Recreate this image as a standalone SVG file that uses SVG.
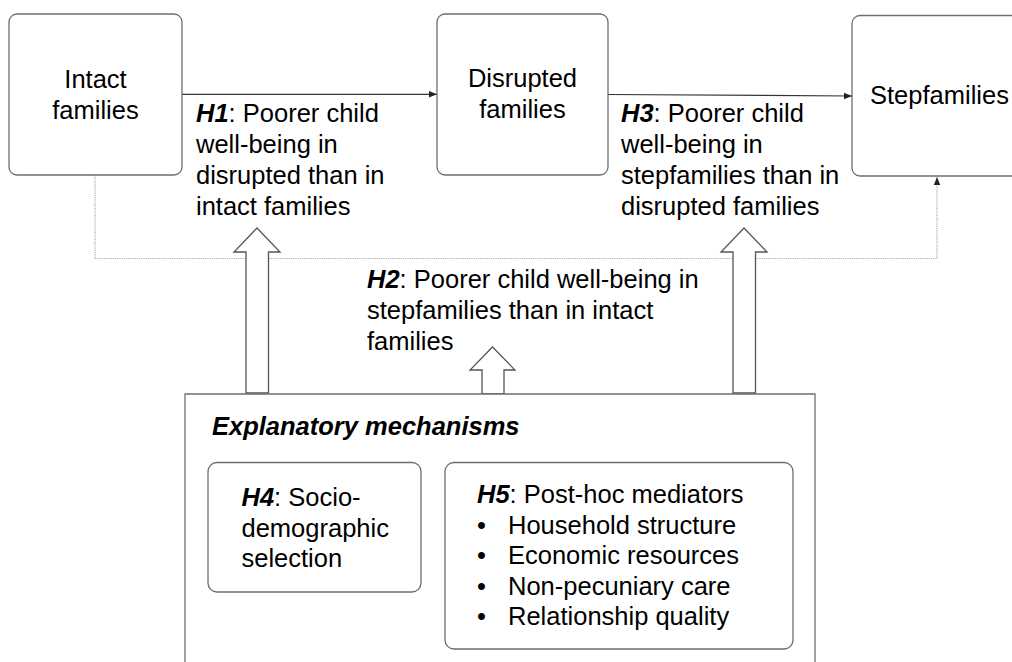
<svg xmlns="http://www.w3.org/2000/svg" width="1012" height="662" viewBox="0 0 1012 662">
<defs>
<style>
text{font-family:"Liberation Sans",Arial,sans-serif;font-size:25.5px;fill:#000}
.b{font-weight:bold;font-style:italic}
.box{fill:#fff;stroke:#6e6e6e;stroke-width:1.3}
.link{fill:none;stroke:#333;stroke-width:1.2}
.dot{fill:none;stroke:#aaa;stroke-width:1.2;stroke-dasharray:1.2 1}
.big{fill:#fff;stroke:#555;stroke-width:1.3;stroke-linejoin:miter}
</style>
<marker id="ah" viewBox="0 0 10 10" refX="10" refY="5" markerWidth="8" markerHeight="8" markerUnits="userSpaceOnUse" orient="auto">
<path d="M0,1 L10,5 L0,9 Z" fill="#222"/>
</marker>
</defs>
<rect width="1012" height="662" fill="#fff"/>
<g id="connectors">
<line class="link" x1="182" y1="94.3" x2="437" y2="94.3" marker-end="url(#ah)"/>
<line class="link" x1="608" y1="94.5" x2="852" y2="96" marker-end="url(#ah)"/>
<path class="dot" d="M95,175 V258.5 H937 V177" marker-end="url(#ah)"/>
<path id="arrow-h1" class="big" d="M246,393 V252 H234 L257,228 L280,252 H268.5 V393 Z"/>
<path id="arrow-h3" class="big" d="M733,393 V252 H721 L744,228 L767,252 H755.5 V393 Z"/>
<path id="arrow-h2" class="big" d="M482,394 V370 H470 L492.5,347 L515,370 H504 V394 Z"/>
</g>
<g id="intact">
<rect class="box" x="9" y="14" width="173" height="161" rx="8"/>
<text x="95.5" y="88" text-anchor="middle">Intact</text>
<text x="95.5" y="119" text-anchor="middle">families</text>
</g>
<g id="disrupted">
<rect class="box" x="437" y="14" width="171" height="161" rx="8"/>
<text x="522.5" y="87" text-anchor="middle">Disrupted</text>
<text x="522.5" y="118" text-anchor="middle">families</text>
</g>
<g id="stepfamilies">
<rect class="box" x="852" y="15.5" width="180" height="160.5" rx="8"/>
<text x="870" y="104">Stepfamilies</text>
</g>
<g id="h1-label">
<text x="196" y="122"><tspan class="b">H1</tspan>: Poorer child</text>
<text x="196" y="153">well-being in</text>
<text x="196" y="184">disrupted than in</text>
<text x="196" y="215">intact families</text>
</g>
<g id="h3-label">
<text x="621" y="122"><tspan class="b">H3</tspan>: Poorer child</text>
<text x="621" y="153">well-being in</text>
<text x="621" y="184">stepfamilies than in</text>
<text x="621" y="215">disrupted families</text>
</g>
<g id="h2-label">
<text x="367" y="288"><tspan class="b">H2</tspan>: Poorer child well-being in</text>
<text x="367" y="319">stepfamilies than in intact</text>
<text x="367" y="350">families</text>
</g>
<g id="explanatory">
<path class="box" d="M185,680 V394 H815 V680"/>
<text class="b" x="212" y="435">Explanatory mechanisms</text>
</g>
<g id="h4">
<rect class="box" x="208" y="462.5" width="213" height="129.5" rx="9"/>
<text x="241.5" y="506"><tspan class="b">H4</tspan>: Socio-</text>
<text x="241.5" y="537">demographic</text>
<text x="241.5" y="567">selection</text>
</g>
<g id="h5">
<rect class="box" x="445" y="462.5" width="348" height="186.5" rx="9"/>
<text x="477" y="503"><tspan class="b">H5</tspan>: Post-hoc mediators</text>
<text x="477" y="533.5">•</text>
<text x="508" y="533.5">Household structure</text>
<text x="477" y="564">•</text>
<text x="508" y="564">Economic resources</text>
<text x="477" y="594.5">•</text>
<text x="508" y="594.5">Non-pecuniary care</text>
<text x="477" y="625">•</text>
<text x="508" y="625">Relationship quality</text>
</g>
</svg>
